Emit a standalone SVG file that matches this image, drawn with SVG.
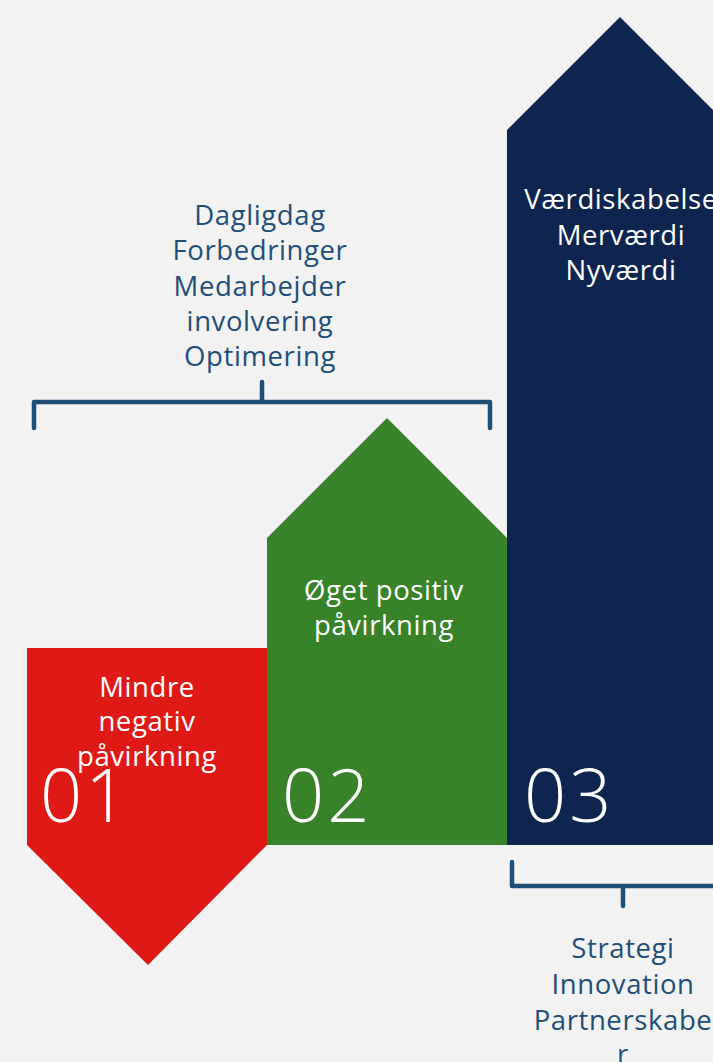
<svg xmlns="http://www.w3.org/2000/svg" width="713" height="1062" viewBox="0 0 713 1062">
<style>
.lbl{font-family:"Open Sans","Noto Sans","Liberation Sans",sans-serif;font-size:27.5px;letter-spacing:0.6px;text-anchor:middle}
.dark{fill:#1F4E79}
.light{fill:#FFFFFF}
.num{font-family:"Open Sans","Noto Sans","Liberation Sans",sans-serif;font-size:74px;font-weight:300;letter-spacing:3px;fill:#FFFFFF}
.br{fill:none;stroke:#1F4E79;stroke-width:4.5;stroke-linecap:round;stroke-linejoin:round}
</style>
<rect width="713" height="1062" fill="#F2F2F2"/>
<g id="step1">
<polygon points="27,648 267,648 267,845 148,965 27,845" fill="#DF1A16"/>
<text class="lbl light" x="147"><tspan x="147" y="697">Mindre</tspan><tspan x="147" y="731">negativ</tspan><tspan x="147" y="766">påvirkning</tspan></text>
<text class="num" x="40" y="822">01</text>
</g>
<g id="step2">
<polygon points="267,538 387,418 507,538 507,845 267,845" fill="#38822A"/>
<text class="lbl light"><tspan x="384" y="600">Øget positiv</tspan><tspan x="384" y="635">påvirkning</tspan></text>
<text class="num" x="282" y="822">02</text>
</g>
<g id="step3">
<polygon points="507,130 620,17 733,130 733,845 507,845" fill="#0E264F"/>
<text class="lbl light"><tspan x="621" y="209">Værdiskabelse</tspan><tspan x="621" y="245">Merværdi</tspan><tspan x="621" y="280">Nyværdi</tspan></text>
<text class="num" x="524" y="822">03</text>
</g>
<g id="topGroup">
<text class="lbl dark"><tspan x="260" y="225">Dagligdag</tspan><tspan x="260" y="260">Forbedringer</tspan><tspan x="260" y="296">Medarbejder</tspan><tspan x="260" y="331">involvering</tspan><tspan x="260" y="366">Optimering</tspan></text>
</g>
<g id="bottomGroup">
<text class="lbl dark"><tspan x="623" y="958">Strategi</tspan><tspan x="623" y="994">Innovation</tspan><tspan x="623" y="1030">Partnerskabe</tspan><tspan x="623" y="1064">r</tspan></text>
</g>
<g id="connectors">
<path class="br" d="M34,428 V402 H490 V428 M262,382 V402"/>
<path class="br" d="M512,862 V886 H740 M623,886 V906"/>
</g>
</svg>
